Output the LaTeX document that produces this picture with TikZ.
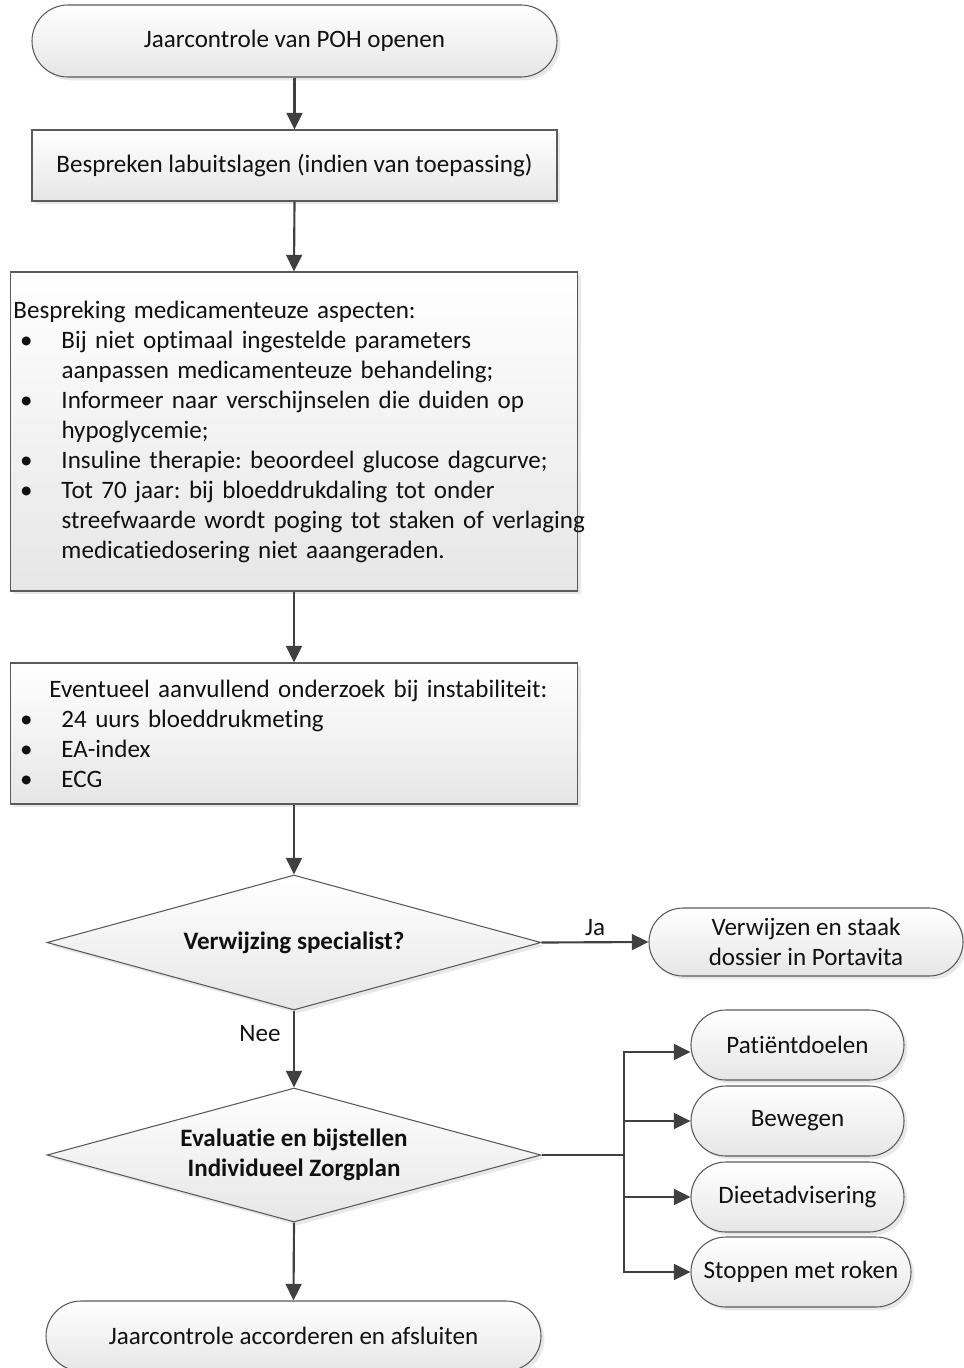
\documentclass[tikz,border=0pt]{standalone}
\usepackage{fontspec}
\setmainfont{Carlito}[Ligatures=NoCommon]
\newfontfamily\tightfont{Carlito}[Ligatures=NoCommon,WordSpace=0.66]
\usetikzlibrary{arrows.meta,shapes.geometric,shadows,calc}

\definecolor{linegray}{HTML}{404040}
\definecolor{edgegray}{HTML}{5A5A5A}
\definecolor{fillbot}{HTML}{E6E6E6}
\definecolor{txt}{HTML}{111111}

% bullet list helpers for the text boxes
\newlength{\bulind}\setlength{\bulind}{36pt}
\newcommand{\bitem}[1]{\mbox{\makebox[\bulind][l]{\hspace{5pt}\textbullet}#1}}
\newcommand{\bcont}[1]{\mbox{\hspace{\bulind}#1}}
\frenchspacing

\begin{document}
\begin{tikzpicture}[x=0.75pt,y=-0.75pt,
  font=\fontsize{18.8}{22.5}\selectfont, text=txt,
  shapebase/.style={draw=edgegray, line width=0.8pt, top color=white, bottom color=fillbot,
    drop shadow={shadow xshift=2.5pt, shadow yshift=-2.5pt, opacity=0.09, fill=black},
    inner sep=0pt},
  terminal/.style={shapebase, rectangle, rounded corners=#1, align=center},
  terminal/.default=26pt,
  procbox/.style={shapebase, rectangle, inner xsep=2.25pt},
  decision/.style={shapebase, diamond, shape aspect=3.66, align=center, font=\fontsize{18.8}{22.5}\selectfont\bfseries},
  arr/.style={draw=linegray, line width=1.6pt, -{Triangle[length=12.5pt,width=12pt]}},
  flow/.style={draw=linegray, line width=1.6pt},
  lbl/.style={inner sep=0pt}
]
\clip (0,0) rectangle (964,1368);

% main column
\node[terminal=27pt, minimum width=393.75pt, minimum height=54pt] (start) at (294.5,41)
  {Jaarcontrole van POH openen};
\node[procbox, minimum width=393.75pt, minimum height=53.25pt] (lab) at (294.5,165.5)
  {Bespreken labuitslagen (indien van toepassing)};
\node[procbox, minimum width=425.25pt, minimum height=239.25pt, text width=420.75pt, align=left,
      font=\fontsize{18.8}{22.5}\tightfont\frenchspacing] (med) at (294,431.5)
  {\mbox{Bespreking medicamenteuze aspecten:}\\
   \bitem{Bij niet optimaal ingestelde parameters}\\
   \bcont{aanpassen medicamenteuze behandeling;}\\
   \bitem{Informeer naar verschijnselen die duiden op}\\
   \bcont{hypoglycemie;}\\
   \bitem{Insuline therapie: beoordeel glucose dagcurve;}\\
   \bitem{Tot 70 jaar: bij bloeddrukdaling tot onder}\\
   \bcont{streefwaarde wordt poging tot staken of verlaging}\\
   \bcont{medicatiedosering niet aaangeraden.}};
\node[procbox, minimum width=425.25pt, minimum height=105.75pt, text width=420.75pt, align=left] (extra) at (294,733.5)
  {\mbox{\hspace{27pt}Eventueel aanvullend onderzoek bij instabiliteit:}\\
   \bitem{24 uurs bloeddrukmeting}\\
   \bitem{EA-index}\\
   \bitem{ECG}};
\node[decision, minimum width=370.5pt, minimum height=101.25pt] (ref) at (294,942.5)
  {Verwijzing specialist?};
\node[terminal=25.5pt, minimum width=235.5pt, minimum height=51pt] (verw) at (806,942)
  {Verwijzen en staak\\dossier in Portavita};
\node[decision, minimum width=370.5pt, minimum height=100.5pt] (eval) at (294,1155)
  {Evaluatie en bijstellen\\Individueel Zorgplan};
\node[terminal=26.25pt, minimum width=371.25pt, minimum height=52.5pt] (stop) at (293.5,1336)
  {Jaarcontrole accorderen en afsluiten};

% care plan topics
\node[terminal=26.25pt, minimum width=159.75pt, minimum height=52.5pt] (pd) at (797.5,1045) {Patiëntdoelen};
\node[terminal=26.25pt, minimum width=159.75pt, minimum height=52.5pt] (bw) at (797.5,1121) {Bewegen};
\node[terminal=26.25pt, minimum width=159.75pt, minimum height=52.5pt] (da) at (797.5,1197) {Dieetadvisering};
\node[terminal=26.25pt, minimum width=165pt, minimum height=52.5pt] (sr) at (801,1272) {Stoppen met roken};

% connectors
\draw[arr] (start.south) -- (lab.north);
\draw[arr] (lab.south) -- (med.north);
\draw[arr] (med.south) -- (extra.north);
\draw[arr] (extra.south) -- (ref.north);
\draw[arr] (ref.east) -- (verw.west);
\draw[arr] (ref.south) -- (eval.north);
\draw[arr] (eval.south) -- (stop.north);

\coordinate (br) at (624,1155);
\draw[flow] (eval.east) -- (br);
\draw[arr] (br) |- ([yshift=-5.25pt]pd.west);
\draw[arr] (br) |- (bw.west);
\draw[arr] (br) |- (da.west);
\draw[arr] (br) |- (sr.west);

% branch labels
\node[lbl] (ja) at (595,928) {Ja};
\node[lbl] (nee) at (260,1034) {Nee};
\end{tikzpicture}
\end{document}
